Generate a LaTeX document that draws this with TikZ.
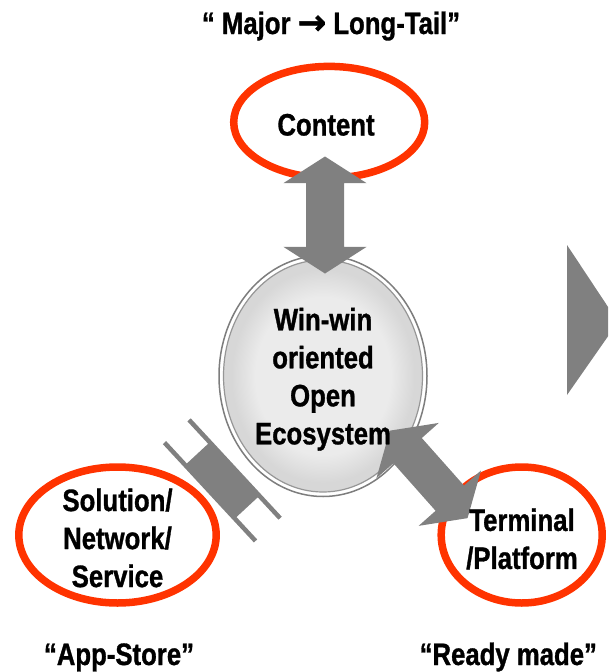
\documentclass[tikz,border=0pt]{standalone}
\usepackage{fontspec}
\setmainfont{Liberation Sans}[FakeStretch=0.83, BoldFeatures={FakeBold=1}]
\newfontfamily\arrowfont{DejaVu Sans}[BoldFeatures={FakeBold=2}]
\usetikzlibrary{shapes.geometric}

\definecolor{ringred}{RGB}{255,51,0}
\definecolor{blockgray}{RGB}{128,128,128}
\definecolor{hubline}{RGB}{125,125,125}
\definecolor{hubline2}{RGB}{150,150,150}
\definecolor{hubinner}{RGB}{235,235,235}
\definecolor{hubouter}{RGB}{215,215,215}

% light centre fading to a darker rim, fitted to the ellipse
\pgfdeclareradialshading{hubfill}{\pgfpoint{0bp}{0bp}}{%
  color(0bp)=(hubinner); color(17bp)=(hubinner);
  color(23bp)=(hubouter); color(25bp)=(hubouter); color(50bp)=(hubouter)}

\tikzset{
  redring/.style={ellipse, draw=ringred, line width=7.5pt, inner sep=0pt},
  txt/.style={align=center, inner sep=0pt},
  % block double arrow, pointing along the local x axis
  twin arrow/.pic={
    \fill[blockgray] (-58.5,0) -- (-31.8,41.7) -- (-31.8,19) -- (31.8,19)
      -- (31.8,41.7) -- (58.5,0) -- (31.8,-41.7) -- (31.8,-19)
      -- (-31.8,-19) -- (-31.8,-41.7) -- cycle;
  },
  % forked connector: a band with a notch cut into each end
  fork link/.pic={
    \fill[blockgray] (-67,19) -- (67,19) -- (67,14.5) -- (36.5,14.5)
      -- (36.5,-14.5) -- (67,-14.5) -- (67,-19) -- (-67,-19)
      -- (-67,-14.5) -- (-36.5,-14.5) -- (-36.5,14.5) -- (-67,14.5) -- cycle;
  }
}

\begin{document}
\begin{tikzpicture}[x=1pt, y=-1pt, font=\fontsize{31}{38}\selectfont\bfseries]
\useasboundingbox (0,0) rectangle (608,672);

% outer rings
\node[redring, minimum width=191pt, minimum height=111.6pt] (content) at (329.2,122.2) {};
\node[redring, minimum width=197.4pt, minimum height=136pt] (solution) at (117.5,535) {};
\node[redring, minimum width=161pt, minimum height=136pt] (terminal) at (521.7,535) {};

% central hub with its double grey rim
\node[ellipse, draw=hubline, line width=1.5pt, fill=white,
      minimum width=208pt, minimum height=241pt, inner sep=0pt] (hub) at (323,376) {};
\node[ellipse, draw=hubline2, line width=1.2pt, shade, shading=hubfill,
      minimum width=199pt, minimum height=232pt, inner sep=0pt] (hubcore) at (hub.center) {};

% exchanges between the hub and the rings
\coordinate (upper link) at (325,215);
\coordinate (right link) at (428.7,474.4);
\coordinate (left link) at (222.3,480.4);
\pic[rotate=90] at (upper link) {twin arrow};
\pic[rotate=-48.4] at (right link) {twin arrow};
\pic[rotate=-47.2] at (left link) {fork link};

% arrow head at the right margin
\begin{scope}
  \clip (0,0) rectangle (608,672);
  \fill[blockgray] (567,245) -- (618,322) -- (567,395) -- cycle;
\end{scope}

% texts
\node[anchor=base] (title) at (331,34) {“ Major {\arrowfont\fontsize{34}{38}\selectfont →} Long-Tail”};
\node[anchor=base] (contenttxt) at (326,135.5) {Content};
\node[txt] (hubtxt) at (323,379.3) {Win-win\\oriented\\Open\\Ecosystem};
\node[txt] (soltxt) at (117.5,538) {Solution/\\Network/\\Service};
\node[txt] (termtxt) at (522,539) {Terminal\\/Platform};
\node[anchor=base] (appstore) at (119,665) {“App-Store”};
\node[anchor=base] (readymade) at (508.3,665) {“Ready made”};
\end{tikzpicture}
\end{document}
